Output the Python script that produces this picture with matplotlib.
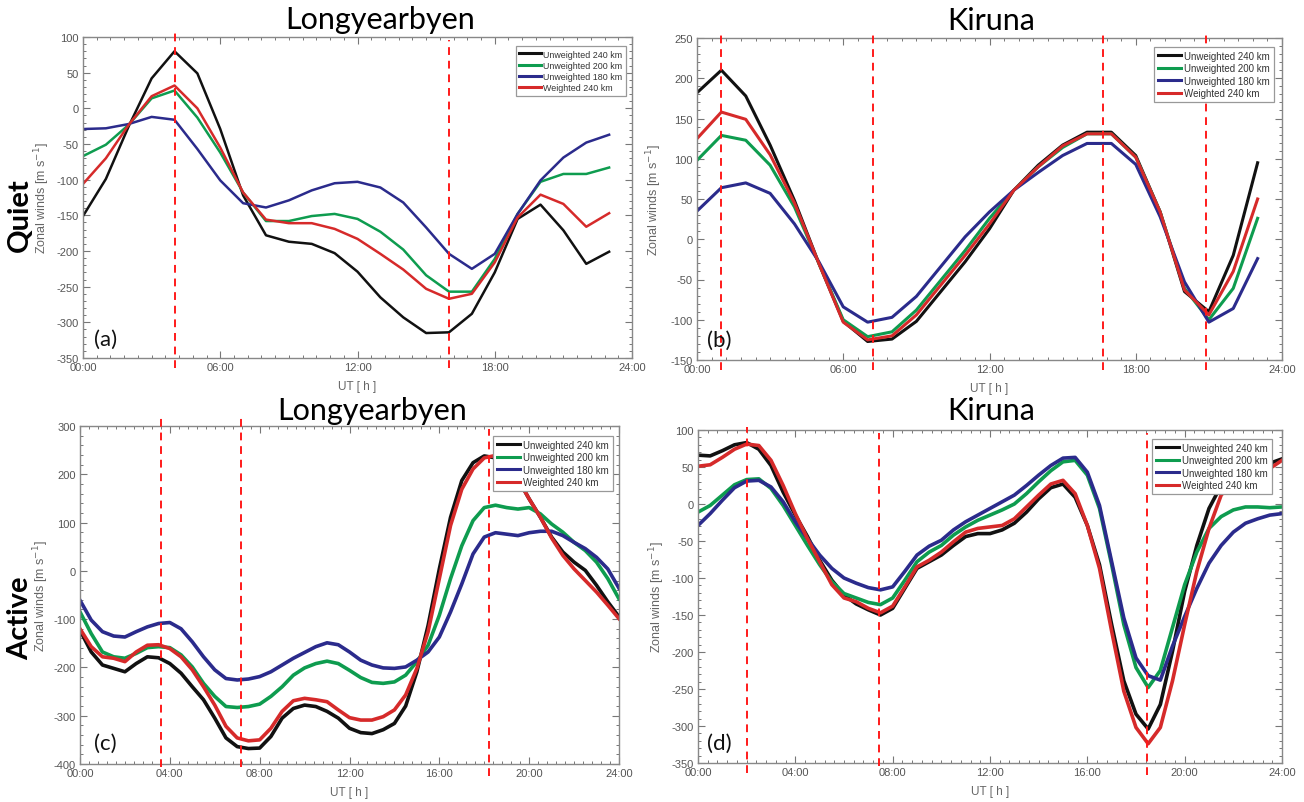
import matplotlib
matplotlib.use('Agg')
import matplotlib.pyplot as plt
import numpy as np
from matplotlib.ticker import MultipleLocator, FuncFormatter
import matplotlib.transforms as mtransforms

plt.rcParams['axes.unicode_minus'] = False

W, H = 1304, 803

series_names = ['Unweighted 240 km', 'Unweighted 200 km', 'Unweighted 180 km', 'Weighted 240 km']
colors = ['#111111', '#0e9c4f', '#2b2b8c', '#d62a2a']

# ---------------- Quiet: hourly values ----------------
hours_quiet = list(range(24))

a_unw240 = [-151, -99, -25, 42, 80, 49, -29, -122, -178, -187, -190, -203, -229, -265,
            -293, -315, -314, -288, -230, -155, -135, -171, -218, -201]
a_unw200 = [-67, -51, -23, 14, 25, -13, -62, -118, -158, -158, -151, -148, -155, -173,
            -198, -234, -257, -257, -211, -148, -103, -92, -92, -83]
a_unw180 = [-29, -28, -22, -12, -16, -57, -101, -133, -139, -129, -115, -105, -103, -111,
            -132, -167, -204, -225, -204, -148, -101, -69, -48, -37]
a_w240 = [-106, -70, -23, 17, 32, 0, -55, -118, -156, -161, -161, -169, -183, -204,
          -226, -253, -267, -260, -216, -153, -121, -134, -166, -147]

b_unw240 = [182, 210, 178, 117, 48, -30, -102, -127, -124, -102, -65, -28, 13, 61,
            92, 117, 133, 133, 104, 34, -65, -90, -20, 95]
b_unw200 = [98, 129, 123, 92, 40, -30, -100, -121, -115, -88, -51, -14, 26, 61,
            90, 114, 131, 131, 102, 34, -61, -100, -61, 26]
b_unw180 = [35, 64, 70, 57, 19, -28, -84, -103, -97, -71, -34, 3, 34, 61,
            83, 104, 119, 119, 93, 28, -53, -103, -86, -24]
b_w240 = [125, 158, 149, 105, 45, -30, -103, -125, -120, -94, -57, -20, 19, 61,
          90, 116, 131, 131, 102, 34, -63, -94, -40, 50]

# ---------------- Active: half-hourly values ----------------
hours_active = np.arange(0, 24.01, 0.5)

c_unw240 = [-123, -168, -195, -202, -209, -192, -178, -180, -192, -212, -240, -267, -305, -346,
            -364, -368, -367, -343, -305, -285, -278, -281, -291, -305, -326, -335, -337, -329,
            -316, -280, -209, -113, 4, 111, 187, 224, 238, 234, 217, 190, 149, 111, 70, 39,
            18, 1, -30, -64, -95]
c_unw200 = [-85, -130, -168, -178, -181, -171, -159, -157, -159, -174, -199, -233, -260, -281,
            -283, -281, -276, -260, -240, -216, -201, -192, -187, -192, -206, -221, -231, -233,
            -230, -216, -188, -154, -92, -16, 52, 104, 131, 136, 131, 128, 131, 118, 97, 80,
            59, 42, 18, -16, -58]
c_unw180 = [-61, -102, -126, -135, -137, -126, -116, -109, -107, -120, -147, -178, -205, -223,
            -226, -224, -219, -209, -195, -181, -169, -157, -149, -153, -168, -185, -195, -201,
            -202, -199, -185, -168, -137, -85, -27, 35, 70, 79, 76, 73, 79, 82, 82, 73,
            59, 46, 28, 4, -36]
c_w240 = [-120, -157, -178, -181, -188, -168, -154, -153, -161, -178, -205, -240, -278, -322,
          -346, -352, -350, -326, -291, -269, -264, -267, -271, -288, -304, -309, -309, -302,
          -288, -257, -202, -126, -16, 94, 169, 211, 234, 239, 219, 190, 149, 111, 68, 32,
          4, -20, -44, -71, -99]

d_unw240 = [66, 65, 72, 80, 83, 74, 52, 16, -15, -44, -76, -103, -123, -135, -143, -150,
            -141, -114, -87, -78, -69, -56, -44, -40, -40, -35, -26, -11, 7, 22, 27, 9,
            -29, -82, -163, -239, -284, -304, -271, -199, -118, -56, -6, 25, 38, 45, 50, 55, 61]
d_unw200 = [-11, -2, 12, 26, 33, 34, 21, -2, -29, -56, -82, -105, -121, -127, -133, -136,
            -127, -103, -78, -65, -56, -42, -31, -22, -15, -8, 0, 14, 30, 45, 57, 59,
            39, -6, -82, -163, -221, -248, -225, -167, -109, -65, -33, -17, -8, -4, -4, -5, -4]
d_unw180 = [-29, -13, 5, 22, 31, 32, 23, 3, -24, -47, -69, -87, -100, -107, -113, -116,
            -112, -91, -69, -57, -49, -35, -24, -15, -6, 3, 12, 25, 39, 52, 62, 63,
            43, -2, -78, -154, -208, -232, -238, -192, -152, -114, -80, -56, -38, -26, -20, -15, -13]
d_w240 = [51, 53, 63, 74, 81, 79, 59, 25, -13, -47, -78, -109, -127, -132, -141, -147,
          -138, -112, -85, -76, -65, -51, -38, -33, -31, -29, -20, -4, 12, 27, 32, 14,
          -29, -87, -172, -253, -302, -324, -302, -239, -163, -91, -33, 12, 30, 35, 42, 48, 59]

# marked times (vertical dashed lines)
a_marks = [4.0, 16.0]
b_marks = [1.0, 7.2, 16.65, 20.9]
c_marks = [3.6, 7.15, 18.2]
d_marks = [2.0, 7.45, 18.47]

fig = plt.figure(figsize=(W / 100, H / 100), dpi=100)


def px_axes(l, t, r, b):
    return fig.add_axes([l / W, 1 - b / H, (r - l) / W, (b - t) / H])


tick_font = ['Liberation Sans Narrow', 'Liberation Sans', 'DejaVu Sans']
title_font = ['Lato', 'DejaVu Sans']

panels = [
    dict(box=(83, 38, 632, 359), x=hours_quiet, ys=[a_unw240, a_unw200, a_unw180, a_w240],
         ylim=(-350, 100), ymaj=50, ymin=10, xmaj=6, xmin=0.6, marks=a_marks,
         mark_span=[(1.02, -0.03), (0.99, -0.03)], lw=1.8, tag='(a)', tagpos=(94, 346),
         leg=(6, 9), legfs=6.4, ylab_px=52),
    dict(box=(697, 39, 1282, 361), x=hours_quiet, ys=[b_unw240, b_unw200, b_unw180, b_w240],
         ylim=(-150, 250), ymaj=50, ymin=10, xmaj=6, xmin=0.6, marks=b_marks,
         mark_span=[(1.02, -0.03)] * 4, lw=2.2, tag='(b)', tagpos=(707, 347),
         leg=(8, 9), legfs=7.0, ylab_px=664),
    dict(box=(80, 427, 619, 765), x=hours_active, ys=[c_unw240, c_unw200, c_unw180, c_w240],
         ylim=(-400, 300), ymaj=100, ymin=20, xmaj=4, xmin=0.4, marks=c_marks,
         mark_span=[(1.035, -0.01), (1.035, -0.01), (0.99, -0.035)], lw=2.6, tag='(c)',
         tagpos=(94, 750), leg=(6, 10), legfs=7.0, ylab_px=51),
    dict(box=(698, 431, 1282, 764), x=hours_active, ys=[d_unw240, d_unw200, d_unw180, d_w240],
         ylim=(-350, 100), ymaj=50, ymin=10, xmaj=4, xmin=0.4, marks=d_marks,
         mark_span=[(1.01, -0.03), (0.99, -0.01), (0.99, -0.035)], lw=2.6, tag='(d)',
         tagpos=(707, 750), leg=(10, 9), legfs=7.0, ylab_px=667),
]

for p in panels:
    l, t, r, b = p['box']
    ax = px_axes(l, t, r, b)
    aw, ah = r - l, b - t
    for yv, c, name in zip(p['ys'], colors, series_names):
        ax.plot(p['x'], yv, color=c, lw=p['lw'], label=name, solid_joinstyle='round')
    ax.set_xlim(0, 24)
    ax.set_ylim(*p['ylim'])
    ax.xaxis.set_major_locator(MultipleLocator(p['xmaj']))
    ax.xaxis.set_minor_locator(MultipleLocator(p['xmin']))
    ax.yaxis.set_major_locator(MultipleLocator(p['ymaj']))
    ax.yaxis.set_minor_locator(MultipleLocator(p['ymin']))
    ax.xaxis.set_major_formatter(FuncFormatter(lambda v, pos: f"{int(round(v)):02d}:00"))
    ax.yaxis.set_major_formatter(FuncFormatter(lambda v, pos: f"{int(round(v))}"))
    ax.tick_params(which='both', direction='in', top=True, right=True, color='#777777',
                   labelcolor='#555555', labelsize=8)
    ax.tick_params(which='major', length=5, width=0.8, pad=3)
    ax.tick_params(which='minor', length=2.5, width=0.7)
    for lab in ax.get_xticklabels() + ax.get_yticklabels():
        lab.set_family(tick_font)
    for s in ax.spines.values():
        s.set_color('#888888')
        s.set_linewidth(1.0)
    ax.set_ylabel('Zonal winds [m s$^{-1}$]', color='#666666', fontsize=9, family=tick_font)
    ax.yaxis.set_label_coords((p['ylab_px'] - l) / aw, 0.5)
    ax.set_xlabel('UT [ h ]', color='#666666', fontsize=8.5, family=tick_font)
    ax.xaxis.set_label_coords(0.5, -22 / ah)

    trans = mtransforms.blended_transform_factory(ax.transData, ax.transAxes)
    for xm, (y1, y0) in zip(p['marks'], p['mark_span']):
        ax.plot([xm, xm], [y0, y1], transform=trans, color='#ff1a1a', lw=1.4,
                ls=(0, (4, 3)), clip_on=False, zorder=5)

    dx, dy = p['leg']
    leg = ax.legend(loc='upper right', bbox_to_anchor=(1 - dx / aw, 1 - dy / ah),
                    borderaxespad=0, frameon=True, fancybox=False,
                    edgecolor='#999999', framealpha=1, handlelength=2.4, handletextpad=0.3,
                    labelspacing=0.25, borderpad=0.4, prop={'family': tick_font, 'size': p['legfs']})
    leg.get_frame().set_linewidth(0.9)
    for txt in leg.get_texts():
        txt.set_color('#333333')
    for lh in leg.get_lines():
        lh.set_linewidth(2.2)

    tx, ty = p['tagpos']
    fig.text(tx / W, 1 - ty / H, p['tag'], fontsize=16, family=title_font, ha='left',
             va='baseline', color='#111111')

# titles
fig.text(380 / W, 1 - 29 / H, 'Longyearbyen', fontsize=22, family=title_font, ha='center', va='baseline')
fig.text(991 / W, 1 - 30 / H, 'Kiruna', fontsize=22, family=title_font, ha='center', va='baseline')
fig.text(372 / W, 1 - 420 / H, 'Longyearbyen', fontsize=22, family=title_font, ha='center', va='baseline')
fig.text(991 / W, 1 - 420 / H, 'Kiruna', fontsize=22, family=title_font, ha='center', va='baseline')

# row labels
fig.text(20 / W, 1 - 215 / H, 'Quiet', fontsize=21, fontweight='bold', family=title_font,
         rotation=90, ha='center', va='center')
fig.text(20 / W, 1 - 618 / H, 'Active', fontsize=21, fontweight='bold', family=title_font,
         rotation=90, ha='center', va='center')

fig.savefig('out.png', dpi=100)
